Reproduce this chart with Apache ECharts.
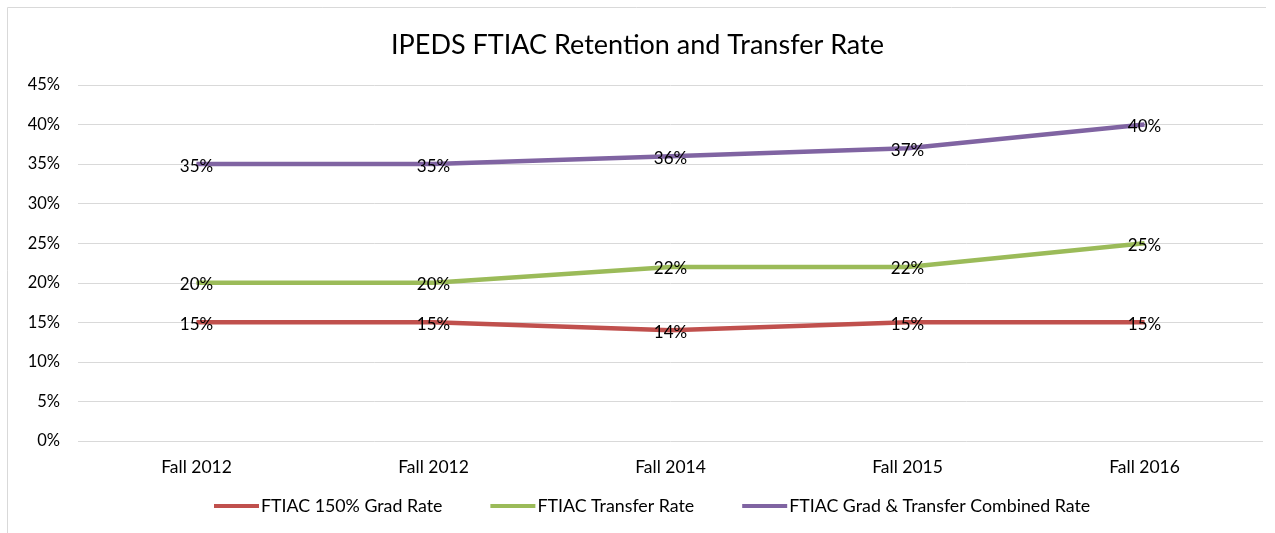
<!DOCTYPE html>
<html>
<head>
<meta charset="utf-8">
<script src="https://cdn.jsdelivr.net/npm/echarts@6/dist/echarts.min.js"></script>
<style>
  html, body { margin: 0; padding: 0; background: #fff; }
  #grafico { width: 1275px; height: 533px; }
</style>
</head>
<body>
<div id="grafico"></div>
<script>
// Dados
const categorias = ["Fall 2012", "Fall 2012", "Fall 2014", "Fall 2015", "Fall 2016"];
const gradRate = [15, 15, 14, 15, 15];
const transferRate = [20, 20, 22, 22, 25];
const combinedRate = [35, 35, 36, 37, 40];

const FONTE = "Lato, 'Open Sans', sans-serif";
const serie = (nome, dados, cor) => ({
  name: nome,
  type: "line",
  data: dados,
  symbol: "circle",
  symbolSize: 1,
  lineStyle: { color: cor, width: 4.5 },
  itemStyle: { color: cor },
  label: {
    show: true,
    position: "inside",
    offset: [0, 2],
    color: "#000",
    fontSize: 17,
    fontFamily: FONTE,
    formatter: (p) => p.value + "%",
  },
  emphasis: { disabled: true },
});

const g = echarts.init(document.getElementById("grafico"));
g.setOption({
  animation: false,
  textStyle: { fontFamily: FONTE },
  title: {
    text: "IPEDS FTIAC Retention and Transfer Rate",
    left: "center",
    top: 27,
    textStyle: { fontSize: 27, fontWeight: "normal", color: "#000", fontFamily: FONTE },
  },
  graphic: [{
    type: "polyline",
    shape: { points: [[7.5, 540], [7.5, 7.5], [1266, 7.5]] },
    style: { stroke: "#d9d9d9", lineWidth: 1, fill: null },
  }],
  grid: { left: 78, right: 12, top: 85, bottom: 92 },
  legend: {
    bottom: 13,
    left: 209,
    icon: "rect",
    itemWidth: 45,
    itemHeight: 4,
    itemGap: 48,
    textStyle: { fontSize: 17.8, color: "#000", fontFamily: FONTE, padding: [0, 0, 0, -3] },
  },
  xAxis: {
    type: "category",
    data: categorias,
    axisLine: { show: false },
    axisTick: { show: false },
    axisLabel: { color: "#000", fontSize: 17.5, margin: 17, fontFamily: FONTE },
  },
  yAxis: {
    type: "value",
    min: 0,
    max: 45,
    interval: 5,
    axisLabel: { color: "#000", fontSize: 16.5, margin: 18, formatter: "{value}%", fontFamily: FONTE },
    splitLine: { lineStyle: { color: "#d9d9d9", width: 1 } },
  },
  series: [
    serie("FTIAC 150% Grad Rate", gradRate, "#C0504D"),
    serie("FTIAC Transfer Rate", transferRate, "#9BBB59"),
    serie("FTIAC Grad & Transfer Combined Rate", combinedRate, "#8064A2"),
  ],
});
</script>
</body>
</html>
